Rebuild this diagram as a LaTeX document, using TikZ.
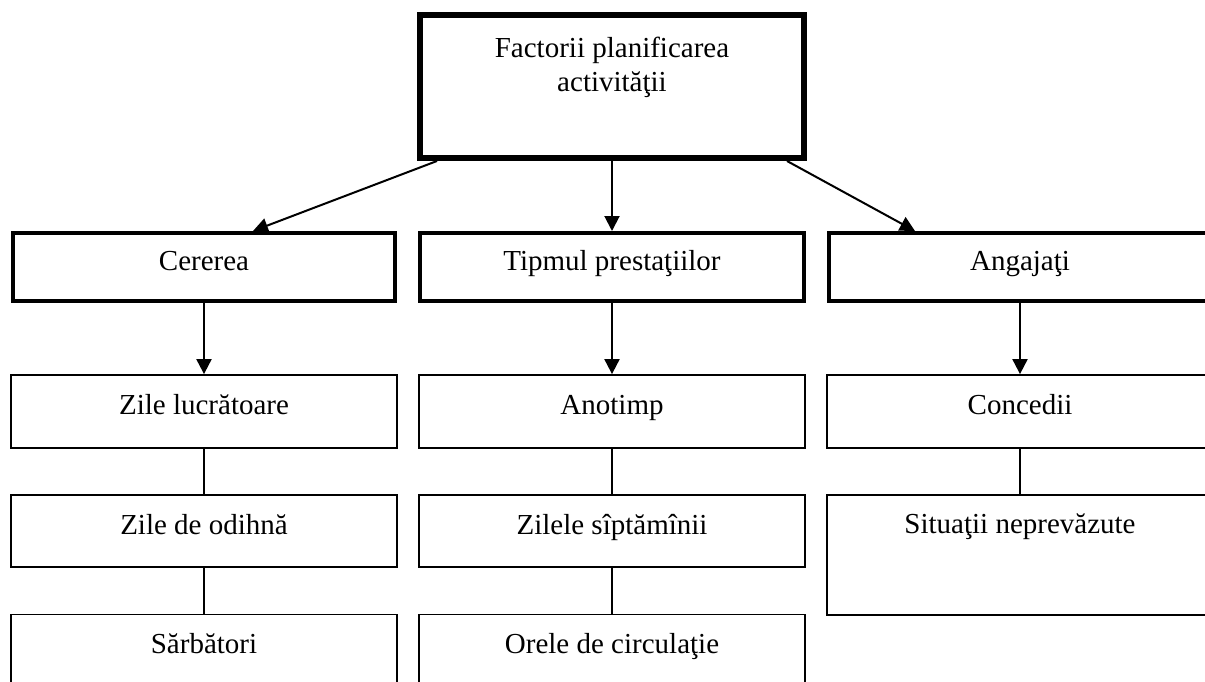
\documentclass[tikz,border=0pt]{standalone}
\usepackage{fontspec}
\setmainfont{Liberation Serif}
\usetikzlibrary{arrows.meta}
\begin{document}
\begin{tikzpicture}[x=1pt,y=-1pt,
  every node/.style={font=\fontsize{29}{34}\selectfont},
  thickbox/.style={draw, line width=4pt, minimum width=382pt, minimum height=68pt, inner sep=0pt, text height=20pt, text depth=14pt},
  thinbox/.style={draw, line width=1.8pt, minimum width=386pt, minimum height=73pt, inner sep=0pt, text height=20pt, text depth=14pt},
  txt/.style={anchor=base, inner sep=0pt},
  arr/.style={line width=2pt, -{Triangle[length=15pt,width=15pt]}},
  con/.style={line width=2pt}
]
\useasboundingbox (0,0) rectangle (1205,682);
\fill[white] (0,0) rectangle (1205,682);
\clip (0,0) rectangle (1205,682);

% top box
\node[draw, line width=6pt, minimum width=384pt, minimum height=143pt, inner sep=0pt] (top) at (612,86.5) {};
\node[align=center, inner sep=0pt] (toptxt) at (612,67) {Factorii planificarea\\activităţii};

% row 1
\node[thickbox] (cer) at (204,267) {Cererea};
\node[thickbox, minimum width=384pt] (tip) at (612,267) {Tipmul prestaţiilor};
\node[thickbox] (ang) at (1020,267) {Angajaţi};

% row 2
\node[thinbox] (zl) at (204,411.5) {Zile lucrătoare};
\node[thinbox] (ano) at (612,411.5) {Anotimp};
\node[thinbox] (con) at (1020,411.5) {Concedii};

% row 3
\node[thinbox, minimum height=72pt] (zo) at (204,531) {Zile de odihnă};
\node[thinbox, minimum height=72pt] (zs) at (612,531) {Zilele sîptămînii};
\node[thinbox, minimum height=120pt] (sit) at (1020,555) {};
\node[txt] (sittxt) at (1020,533) {Situaţii neprevăzute};

% row 4
\node[thinbox, minimum height=105pt] (sar) at (204,667) {};
\node[txt] (sartxt) at (204,653) {Sărbători};
\node[thinbox, minimum height=105pt] (ore) at (612,667) {};
\node[txt] (oretxt) at (612,653) {Orele de circulaţie};

% connectors
\draw[arr] ([xshift=20pt]top.south west) -- ([xshift=49pt]cer.north);
\draw[arr] (top.south) -- (tip.north);
\draw[arr] ([xshift=-20pt]top.south east) -- ([xshift=-105pt]ang.north);

\draw[arr] (cer.south) -- (zl.north);
\draw[arr] (tip.south) -- (ano.north);
\draw[arr] (ang.south) -- (con.north);

\draw[con] (zl.south) -- (zo.north);
\draw[con] (zo.south) -- (sar.north);
\draw[con] (ano.south) -- (zs.north);
\draw[con] (zs.south) -- (ore.north);
\draw[con] (con.south) -- (sit.north);
\end{tikzpicture}
\end{document}
